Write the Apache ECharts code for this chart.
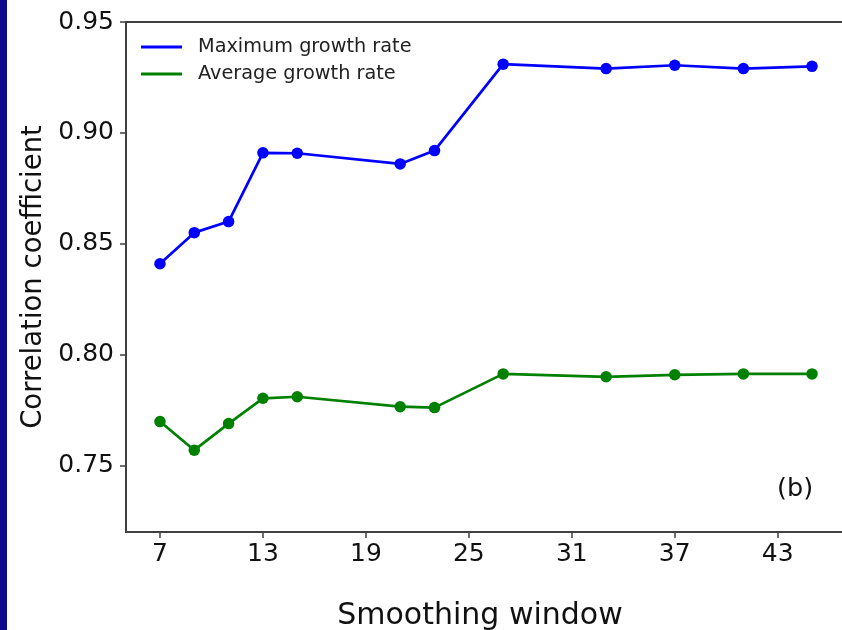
<!DOCTYPE html>
<html>
<head>
<meta charset="utf-8">
<script src="https://cdn.jsdelivr.net/npm/echarts@6/dist/echarts.min.js"></script>
<style>html,body{margin:0;padding:0;background:#fff;}#c{width:842px;height:630px;}</style>
</head>
<body>
<div id="c"></div>
<script>
var windows = [7, 9, 11, 13, 15, 21, 23, 27, 33, 37, 41, 45];
var maxGrowth = [0.841, 0.855, 0.860, 0.891, 0.8908, 0.886, 0.892, 0.931, 0.929, 0.9305, 0.929, 0.930];
var avgGrowth = [0.7698, 0.7569, 0.7689, 0.7803, 0.7810, 0.7765, 0.7761, 0.7913, 0.7900, 0.7909, 0.7913, 0.7913];
var xTicks = [7, 13, 19, 25, 31, 37, 43];
var yTicks = [0.75, 0.80, 0.85, 0.90, 0.95];

function pairs(xs, ys) { return xs.map(function (x, i) { return [x, ys[i]]; }); }

var chart = echarts.init(document.getElementById('c'), null, { renderer: 'canvas' });
var font = 'DejaVu Sans';
chart.setOption({
  backgroundColor: '#ffffff',
  animation: false,
  textStyle: { fontFamily: font },
  grid: { left: 126, top: 22, width: 720, height: 510, containLabel: false, outerBoundsMode: 'none',
          show: true, borderColor: '#404040', borderWidth: 2, backgroundColor: 'transparent' },
  legend: {
    orient: 'vertical', left: 136, top: 32,
    itemWidth: 41, itemHeight: 3, itemGap: 7,
    icon: 'rect',
    textStyle: { fontFamily: font, fontSize: 19.3, color: '#222', padding: [0, 0, 0, 11], lineHeight: 20 },
    data: ['Maximum growth rate', 'Average growth rate']
  },
  xAxis: {
    type: 'value', min: 5.02, max: 46.98,
    name: 'Smoothing window', nameLocation: 'middle', nameGap: 69,
    nameTextStyle: { fontFamily: font, fontSize: 30, color: '#111', padding: [0, 12, 0, 0] },
    axisLine: { show: true, onZero: false, lineStyle: { color: '#404040', width: 2 } },
    axisTick: { show: true, inside: false, length: 6, customValues: xTicks, lineStyle: { color: '#404040', width: 1.5 } },
    axisLabel: { customValues: xTicks, fontFamily: font, fontSize: 25, color: '#111', margin: 10 },
    splitLine: { show: false }
  },
  yAxis: {
    type: 'value', min: 0.72, max: 0.95,
    name: 'Correlation coefficient', nameLocation: 'middle', nameGap: 78,
    nameTextStyle: { fontFamily: font, fontSize: 27.5, color: '#111' },
    axisLine: { show: true, onZero: false, lineStyle: { color: '#404040', width: 2 } },
    axisTick: { show: true, inside: false, length: 6, customValues: yTicks, lineStyle: { color: '#404040', width: 1.5 } },
    axisLabel: { customValues: yTicks, fontFamily: font, fontSize: 25, color: '#111', margin: 12,
                 formatter: function (v) { return v.toFixed(2); } },
    splitLine: { show: false }
  },
  graphic: [
    { type: 'rect', left: 0, top: 0, shape: { width: 7, height: 630 }, style: { fill: '#0b0b8c' } },
    { type: 'text', left: 777, top: 476, style: { text: '(b)', fontFamily: font, fontSize: 25.5, fill: '#111' } }
  ],
  series: [
    { name: 'Maximum growth rate', type: 'line', data: pairs(windows, maxGrowth),
      symbol: 'circle', symbolSize: 11.5, color: '#0000ff',
      lineStyle: { width: 2.7, color: '#0000ff' }, itemStyle: { color: '#0000ff' } },
    { name: 'Average growth rate', type: 'line', data: pairs(windows, avgGrowth),
      symbol: 'circle', symbolSize: 11.5, color: '#008000',
      lineStyle: { width: 2.7, color: '#008000' }, itemStyle: { color: '#008000' } }
  ]
});
</script>
</body>
</html>
